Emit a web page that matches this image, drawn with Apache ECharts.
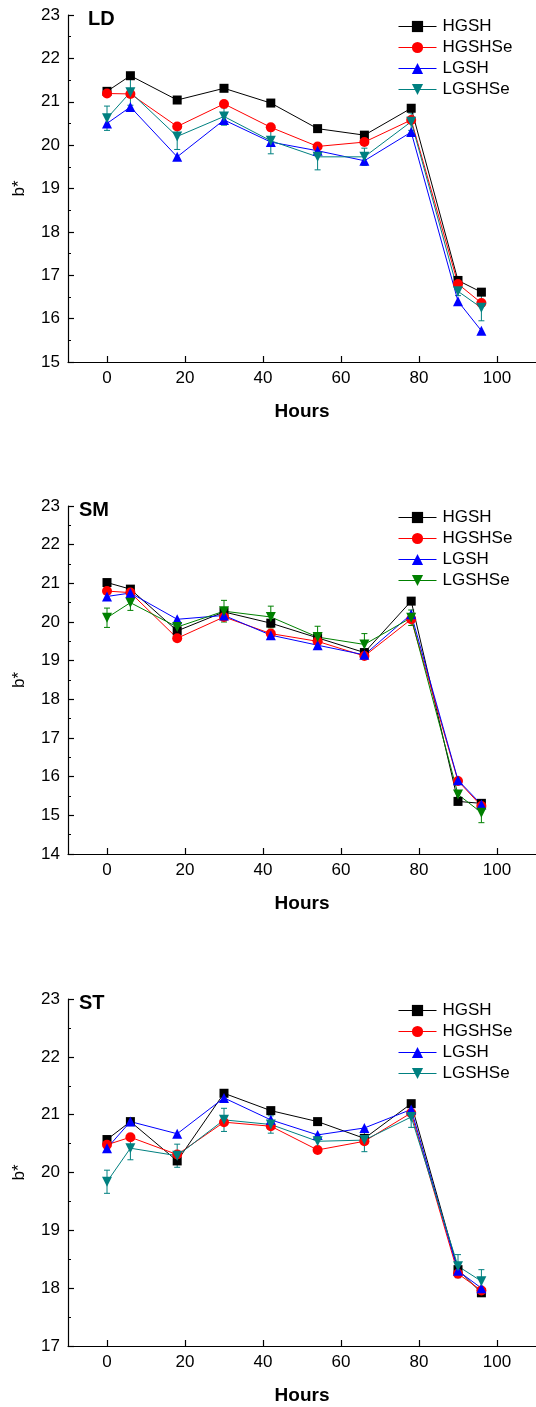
<!DOCTYPE html>
<html>
<head>
<meta charset="utf-8">
<script src="https://cdn.jsdelivr.net/npm/echarts@6/dist/echarts.min.js"></script>
<style>
  html, body { margin: 0; padding: 0; background: #fff; }
  #chart { width: 536px; height: 1407px; }
</style>
</head>
<body>
<div id="chart"></div>
<script>
const hours = [0, 6, 18, 30, 42, 54, 66, 78, 90, 96];
const seriesNames = ["HGSH", "HGSHSe", "LGSH", "LGSHSe"];
const panelNames = ["LD", "SM", "ST"];

// LD panel
const ldHGSH = [21.24, 21.6, 21.04, 21.31, 20.97, 20.38, 20.23, 20.85, 16.88, 16.61];
const ldHGSHSe = [21.19, 21.18, 20.43, 20.95, 20.41, 19.97, 20.07, 20.58, 16.8, 16.36];
const ldLGSH = [20.5, 20.88, 19.73, 20.58, 20.07, 19.87, 19.64, 20.3, 16.4, 15.72];
const ldLGSHSe = [20.62, 21.22, 20.2, 20.66, 20.1, 19.73, 19.73, 20.54, 16.63, 16.25];
const ldLGSHSeErr = [0.28, 0.3, 0.3, 0.2, 0.3, 0.3, 0.2, 0.2, 0.1, 0.3];

// SM panel
const smHGSH = [21.02, 20.85, 19.77, 20.26, 19.97, 19.59, 19.21, 20.54, 15.36, 15.31];
const smHGSHSe = [20.8, 20.76, 19.58, 20.13, 19.7, 19.5, 19.12, 20.07, 15.89, 15.24];
const smLGSH = [20.66, 20.75, 20.07, 20.17, 19.66, 19.4, 19.15, 20.2, 15.91, 15.28];
const smLGSHSe = [20.11, 20.5, 19.87, 20.28, 20.13, 19.61, 19.42, 20.11, 15.54, 15.07];
const smLGSHSeErr = [0.25, 0.2, 0.1, 0.28, 0.28, 0.28, 0.28, 0.2, 0.1, 0.26];

// ST panel
const stHGSH = [20.57, 20.88, 20.2, 21.37, 21.07, 20.88, 20.59, 21.19, 18.32, 17.92];
const stHGSHSe = [20.48, 20.61, 20.31, 20.87, 20.8, 20.39, 20.54, 21.03, 18.25, 17.96];
const stLGSH = [20.42, 20.88, 20.67, 21.29, 20.91, 20.65, 20.77, 21.09, 18.3, 18.0];
const stLGSHSe = [19.84, 20.42, 20.29, 20.91, 20.83, 20.54, 20.56, 20.96, 18.38, 18.12];
const stLGSHSeErr = [0.2, 0.2, 0.2, 0.2, 0.15, 0.12, 0.2, 0.18, 0.2, 0.2];

const yMins = [15, 14, 17];
const yMaxs = [23, 23, 23];

const FONT = "Arial, 'Liberation Sans', sans-serif";
const GRID_TOPS = [15, 506, 999];
const GRID_HEIGHTS = [347, 348, 347];
const LEGEND_TOPS = [13, 504, 997];

const panelValues = [
  [ldHGSH, ldHGSHSe, ldLGSH, ldLGSHSe],
  [smHGSH, smHGSHSe, smLGSH, smLGSHSe],
  [stHGSH, stHGSHSe, stLGSH, stLGSHSe]
];
const panelErrors = [ldLGSHSeErr, smLGSHSeErr, stLGSHSeErr];
const panelColors = [
  ["#000000", "#ff0000", "#0000ff", "#008080"],
  ["#000000", "#ff0000", "#0000ff", "#008000"],
  ["#000000", "#ff0000", "#0000ff", "#008080"]
];
const symbols = ["rect", "circle", "triangle", "triangle"];
const symbolSizes = [9, 10, 10, 10];
const symbolRotates = [0, 0, 0, 180];

function pairs(values) {
  return hours.map((h, i) => [h, values[i]]);
}

function errorData(values, errs) {
  return hours.map((h, i) => [h, values[i] - errs[i], values[i] + errs[i]]);
}

function renderErrorBar(params, api) {
  const x = api.value(0);
  const lo = api.coord([x, api.value(1)]);
  const hi = api.coord([x, api.value(2)]);
  const cap = 3;
  const style = { stroke: api.visual("color"), lineWidth: 1 };
  return {
    type: "group",
    children: [
      { type: "line", shape: { x1: lo[0], y1: lo[1], x2: hi[0], y2: hi[1] }, style },
      { type: "line", shape: { x1: lo[0] - cap, y1: lo[1], x2: lo[0] + cap, y2: lo[1] }, style },
      { type: "line", shape: { x1: hi[0] - cap, y1: hi[1], x2: hi[0] + cap, y2: hi[1] }, style }
    ]
  };
}

const grids = [];
const xAxes = [];
const yAxes = [];
const series = [];
const legends = [];
const graphics = [];

panelNames.forEach((panel, p) => {
  grids.push({ left: 68, top: GRID_TOPS[p], width: 470, height: GRID_HEIGHTS[p] });

  xAxes.push({
    gridIndex: p,
    type: "value",
    min: -10,
    max: 110,
    interval: 20,
    name: "Hours",
    nameLocation: "middle",
    nameGap: 40,
    nameTextStyle: { fontFamily: FONT, fontSize: 19, fontWeight: "bold", color: "#000" },
    axisLine: { onZero: false, lineStyle: { color: "#000", width: 1.2 } },
    axisTick: { inside: true, length: 6, lineStyle: { color: "#000", width: 1.2 }, customValues: [0, 20, 40, 60, 80, 100] },
    minorTick: { show: true, splitNumber: 2, length: 3, lineStyle: { color: "#000", width: 1 } },
    axisLabel: { fontFamily: FONT, fontSize: 17, color: "#000", margin: 8, customValues: [0, 20, 40, 60, 80, 100] },
    splitLine: { show: false }
  });

  yAxes.push({
    gridIndex: p,
    type: "value",
    min: yMins[p],
    max: yMaxs[p],
    interval: 1,
    name: "b*",
    nameLocation: "middle",
    nameGap: 40,
    nameTextStyle: { fontFamily: FONT, fontSize: 17, color: "#000" },
    axisLine: { show: true, onZero: false, lineStyle: { color: "#000", width: 1.2 } },
    axisTick: { show: true, inside: true, length: 6, lineStyle: { color: "#000", width: 1.2 } },
    minorTick: { show: true, splitNumber: 2, length: 3, lineStyle: { color: "#000", width: 1 } },
    axisLabel: { fontFamily: FONT, fontSize: 17, color: "#000", margin: 8 },
    splitLine: { show: false }
  });

  seriesNames.forEach((name, s) => {
    const color = panelColors[p][s];
    if (s === 3) {
      series.push({
        type: "custom",
        name: name + " error",
        xAxisIndex: p,
        yAxisIndex: p,
        data: errorData(panelValues[p][s], panelErrors[p]),
        renderItem: renderErrorBar,
        itemStyle: { color },
        encode: { x: 0, y: [1, 2] },
        silent: true,
        z: 3
      });
    }
    series.push({
      type: "line",
      name: name,
      xAxisIndex: p,
      yAxisIndex: p,
      data: pairs(panelValues[p][s]),
      symbol: symbols[s],
      symbolSize: symbolSizes[s],
      symbolRotate: symbolRotates[s],
      showAllSymbol: true,
      color: color,
      lineStyle: { color, width: 1 },
      itemStyle: { color },
      animation: false,
      z: 4
    });
  });

  legends.push({
    orient: "vertical",
    left: 393,
    top: LEGEND_TOPS[p],
    itemWidth: 38,
    itemHeight: 14,
    itemGap: 4,
    selectedMode: false,
    textStyle: { fontFamily: FONT, fontSize: 17, color: "#000", padding: [0, 0, 0, 1] },
    data: seriesNames.map((name, s) => ({
      name,
      itemStyle: { color: panelColors[p][s] },
      lineStyle: { color: panelColors[p][s], width: 1 }
    }))
  });

  graphics.push({
    type: "text",
    left: p === 0 ? 88 : 79,
    top: GRID_TOPS[p] - 6,
    style: { text: panel, fontFamily: FONT, fontSize: 20, fontWeight: "bold", fill: "#000" }
  });
});

const chart = echarts.init(document.getElementById("chart"), null, { renderer: "canvas" });
chart.setOption({
  animation: false,
  backgroundColor: "#fff",
  grid: grids,
  xAxis: xAxes,
  yAxis: yAxes,
  legend: legends,
  graphic: graphics,
  series: series
});
</script>
</body>
</html>
